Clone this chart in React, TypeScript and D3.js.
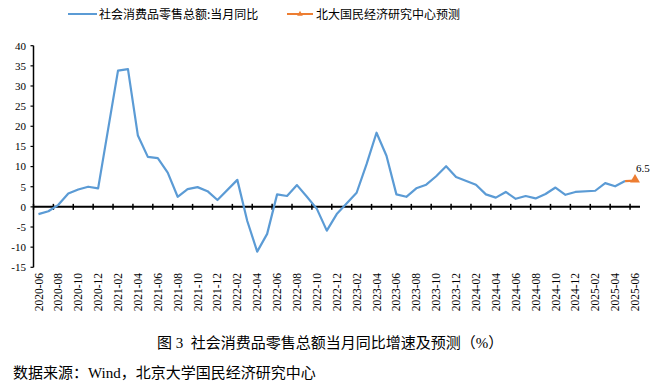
import * as d3 from "d3";

// monthly retail sales yoy (%), Jan figures not published separately
const months = [
  "2020-06", "2020-07", "2020-08", "2020-09", "2020-10", "2020-11", "2020-12",
  "2021-01", "2021-02", "2021-03", "2021-04", "2021-05", "2021-06", "2021-07",
  "2021-08", "2021-09", "2021-10", "2021-11", "2021-12",
  "2022-01", "2022-02", "2022-03", "2022-04", "2022-05", "2022-06", "2022-07",
  "2022-08", "2022-09", "2022-10", "2022-11", "2022-12",
  "2023-01", "2023-02", "2023-03", "2023-04", "2023-05", "2023-06", "2023-07",
  "2023-08", "2023-09", "2023-10", "2023-11", "2023-12",
  "2024-01", "2024-02", "2024-03", "2024-04", "2024-05", "2024-06", "2024-07",
  "2024-08", "2024-09", "2024-10", "2024-11", "2024-12",
  "2025-01", "2025-02", "2025-03", "2025-04", "2025-05", "2025-06",
];

const retail: (number | null)[] = [
  -1.8, -1.1, 0.5, 3.3, 4.3, 5.0, 4.6,
  null, 33.8, 34.2, 17.7, 12.4, 12.1, 8.5,
  2.5, 4.4, 4.9, 3.9, 1.7,
  null, 6.7, -3.5, -11.1, -6.7, 3.1, 2.7,
  5.4, 2.5, -0.5, -5.9, -1.8,
  null, 3.5, 10.6, 18.4, 12.7, 3.1, 2.5,
  4.6, 5.5, 7.6, 10.1, 7.4,
  null, 5.5, 3.1, 2.3, 3.7, 2.0, 2.7,
  2.1, 3.2, 4.8, 3.0, 3.7,
  null, 4.0, 5.9, 5.1, 6.4, null,
];

// forecast series: last actual + projection
const forecastMonths = ["2025-05", "2025-06"];
const forecast = [6.4, 6.5];

const yTicks = [40, 35, 30, 25, 20, 15, 10, 5, 0, -5, -10, -15];

const BLUE = "#5B9BD5";
const ORANGE = "#ED7D31";
const SERIF = "'Times New Roman', 'Liberation Serif', serif";
const CJK = "'Noto Sans CJK SC', 'Noto Sans', sans-serif";

export default function App() {
  const width = 656;
  const height = 385;

  const x = d3.scaleBand<string>().domain(months).range([33.5, 640]).padding(0);
  const cx = (m: string) => (x(m) as number) + x.bandwidth() / 2;
  const y = d3.scaleLinear().domain([-15, 40]).range([267.3, 45.7]);

  const pts = months
    .map((m, i) => ({ m, v: retail[i] }))
    .filter((d) => d.v !== null) as { m: string; v: number }[];

  const line = d3
    .line<{ m: string; v: number }>()
    .x((d) => cx(d.m))
    .y((d) => y(d.v));

  const fc = forecastMonths.map((m, i) => ({ m, v: forecast[i] }));
  const last = fc[fc.length - 1];

  const tickMonths = months.filter((_, i) => i % 2 === 0);
  const tri = d3.symbol(d3.symbolTriangle, 42)();

  return (
    <svg
      width={width}
      height={height}
      style={{ position: "absolute", left: 0, top: 0, background: "#fff" }}
    >
      {/* legend */}
      <g fontFamily={CJK} fontSize={12} fill="#000">
        <line x1={68} x2={97} y1={14} y2={14} stroke={BLUE} strokeWidth={2} />
        <text x={99} y={18.5}>社会消费品零售总额:当月同比</text>
        <line x1={287} x2={313} y1={14} y2={14} stroke={ORANGE} strokeWidth={2} />
        <path d={d3.symbol(d3.symbolTriangle, 14)()!} transform="translate(300,14)" fill={ORANGE} />
        <text x={316} y={18.5}>北大国民经济研究中心预测</text>
      </g>

      {/* y axis */}
      <g fontFamily={SERIF} fontSize={11}>
        <line x1={33.5} x2={33.5} y1={y(40)} y2={y(-15)} stroke="#000" strokeWidth={1.5} />
        {yTicks.map((t) => (
          <g key={t}>
            <line x1={30.5} x2={33.5} y1={y(t)} y2={y(t)} stroke="#000" strokeWidth={1.2} />
            <text x={26} y={y(t)} dy="0.35em" textAnchor="end">
              {t}
            </text>
          </g>
        ))}
      </g>

      {/* x axis at zero */}
      <line x1={33.5} x2={640} y1={y(0)} y2={y(0)} stroke="#000" strokeWidth={2} />
      {tickMonths.map((m) => (
        <line
          key={m}
          x1={x(m)}
          x2={x(m)}
          y1={y(0) - 3}
          y2={y(0) + 3}
          stroke="#000"
          strokeWidth={1.5}
        />
      ))}
      <g fontFamily={SERIF} fontSize={11.5}>
        {tickMonths.map((m) => (
          <text
            key={m}
            transform={`translate(${cx(m)},273) rotate(-90)`}
            textAnchor="end"
            dy="0.35em"
          >
            {m}
          </text>
        ))}
      </g>

      {/* series */}
      <path d={line(pts)!} fill="none" stroke={BLUE} strokeWidth={2.2} strokeLinejoin="round" />
      <path d={line(fc)!} fill="none" stroke={ORANGE} strokeWidth={2.2} />
      <path d={tri!} transform={`translate(${cx(last.m)},${y(last.v) - 1})`} fill={ORANGE} />
      <text x={cx(last.m) + 1} y={y(last.v) - 9} fontFamily={SERIF} fontSize={11}>
        {last.v}
      </text>

      {/* caption */}
      <text x={157} y={348} fontFamily={CJK} fontSize={15} xmlSpace="preserve">
        {"图"}
        <tspan fontFamily={SERIF}>{" 3  "}</tspan>
        {"社会消费品零售总额当月同比增速及预测（"}
        <tspan fontFamily={SERIF}>%</tspan>
        {"）"}
      </text>
      <text x={13} y={378} fontFamily={CJK} fontSize={15}>
        数据来源：<tspan fontFamily={SERIF}>Wind</tspan>，北京大学国民经济研究中心
      </text>
    </svg>
  );
}
